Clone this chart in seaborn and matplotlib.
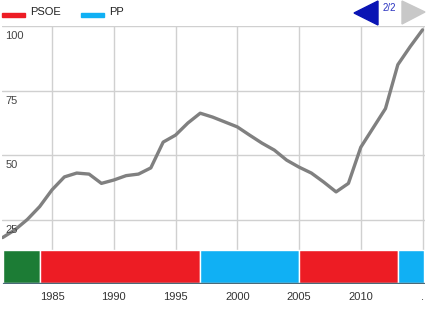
import matplotlib
matplotlib.use("Agg")
import matplotlib.pyplot as plt
import numpy as np
import pandas as pd
import seaborn as sns
from matplotlib.patches import Polygon, Rectangle

W, H = 428, 313

# debt line
years = list(range(1981, 2016))
values = [18, 21, 25, 30, 36.5, 41.5, 43, 42.6, 39, 40.3, 42, 42.6, 45, 55,
          57.7, 62.4, 66.2, 64.7, 62.8, 60.9, 57.7, 54.6, 51.9, 48, 45.3, 43,
          39.5, 35.7, 39, 53, 60.5, 68, 85, 92, 98.5]

# government band at the bottom
gov_start = [1981, 1984, 1997, 2005, 2013]
gov_end = [1984, 1997, 2005, 2013, 2015.1]
gov_party = ["UCD", "PSOE", "PP", "PSOE", "PP"]
party_color = {"UCD": "#1c7c35", "PSOE": "#ed1c24", "PP": "#10b0f4"}

legend_parties = ["PSOE", "PP"]
xtick_years = [1985, 1990, 1995, 2000, 2005, 2010, 2015]
xtick_labels = ["1985", "1990", "1995", "2000", "2005", "2010", "."]
ytick_values = [25, 50, 75, 100]

sns.set_theme(style="white")
plt.rcParams["font.family"] = ["Liberation Sans", "DejaVu Sans"]


def fx(px):
    return px / W


def fy(py):
    return 1 - py / H


fig = plt.figure(figsize=(W / 100, H / 100), dpi=100)
ax = fig.add_axes([fx(2), fy(284), (425 - 2) / W, (284 - 26) / H])

df = pd.DataFrame({"year": years, "value": values})
sns.lineplot(data=df, x="year", y="value", ax=ax, color="#808080",
             linewidth=2.4, zorder=4)

ax.set_xlim(1980.95, 2015.2)
ax.set_ylim(0, 100)
ax.set_xticks(xtick_years)
ax.set_xticklabels(xtick_labels, fontsize=8, color="#333333")
ax.set_yticks(ytick_values)
ax.set_yticklabels([])
ax.tick_params(axis="x", length=0, pad=6)
ax.tick_params(axis="y", length=0)
ax.set_xlabel("")
ax.set_ylabel("")
ax.grid(True, color="#d0d0d0", linewidth=1)
ax.set_axisbelow(True)
for s in ax.spines.values():
    s.set_visible(False)

# y labels sit inside the plot, just under each gridline
for v in ytick_values:
    ax.text(0.008, v - 2.0, str(v), transform=ax.get_yaxis_transform(),
            ha="left", va="top", fontsize=8, color="#444444", zorder=5)

# government band
ax.broken_barh([(s, e - s) for s, e in zip(gov_start, gov_end)], (0.3, 12.7),
               facecolors=[party_color[p] for p in gov_party], zorder=3)
ax.plot([gov_start[0], gov_end[-1]], [0.3, 0.3], color="#4a6a78",
        linewidth=1, zorder=3)

# legend on top
lx = 2
for p in legend_parties:
    fig.add_artist(Rectangle((fx(lx), fy(17)), 23 / W, 4 / H,
                             transform=fig.transFigure, color=party_color[p]))
    fig.text(fx(lx + 28), fy(12), p, fontsize=8, color="#222222",
             ha="left", va="center")
    lx += 79

# page navigation arrows
fig.add_artist(Polygon([(fx(354), fy(13)), (fx(378), fy(1)), (fx(378), fy(25))],
                       closed=True, transform=fig.transFigure, color="#0a14b4"))
fig.add_artist(Polygon([(fx(402), fy(1)), (fx(402), fy(24)), (fx(425), fy(12))],
                       closed=True, transform=fig.transFigure, color="#c8c8c8"))
fig.text(fx(389), fy(8), "2/2", fontsize=7, color="#2a32c0",
         ha="center", va="center")

fig.savefig("out.png", dpi=100)
